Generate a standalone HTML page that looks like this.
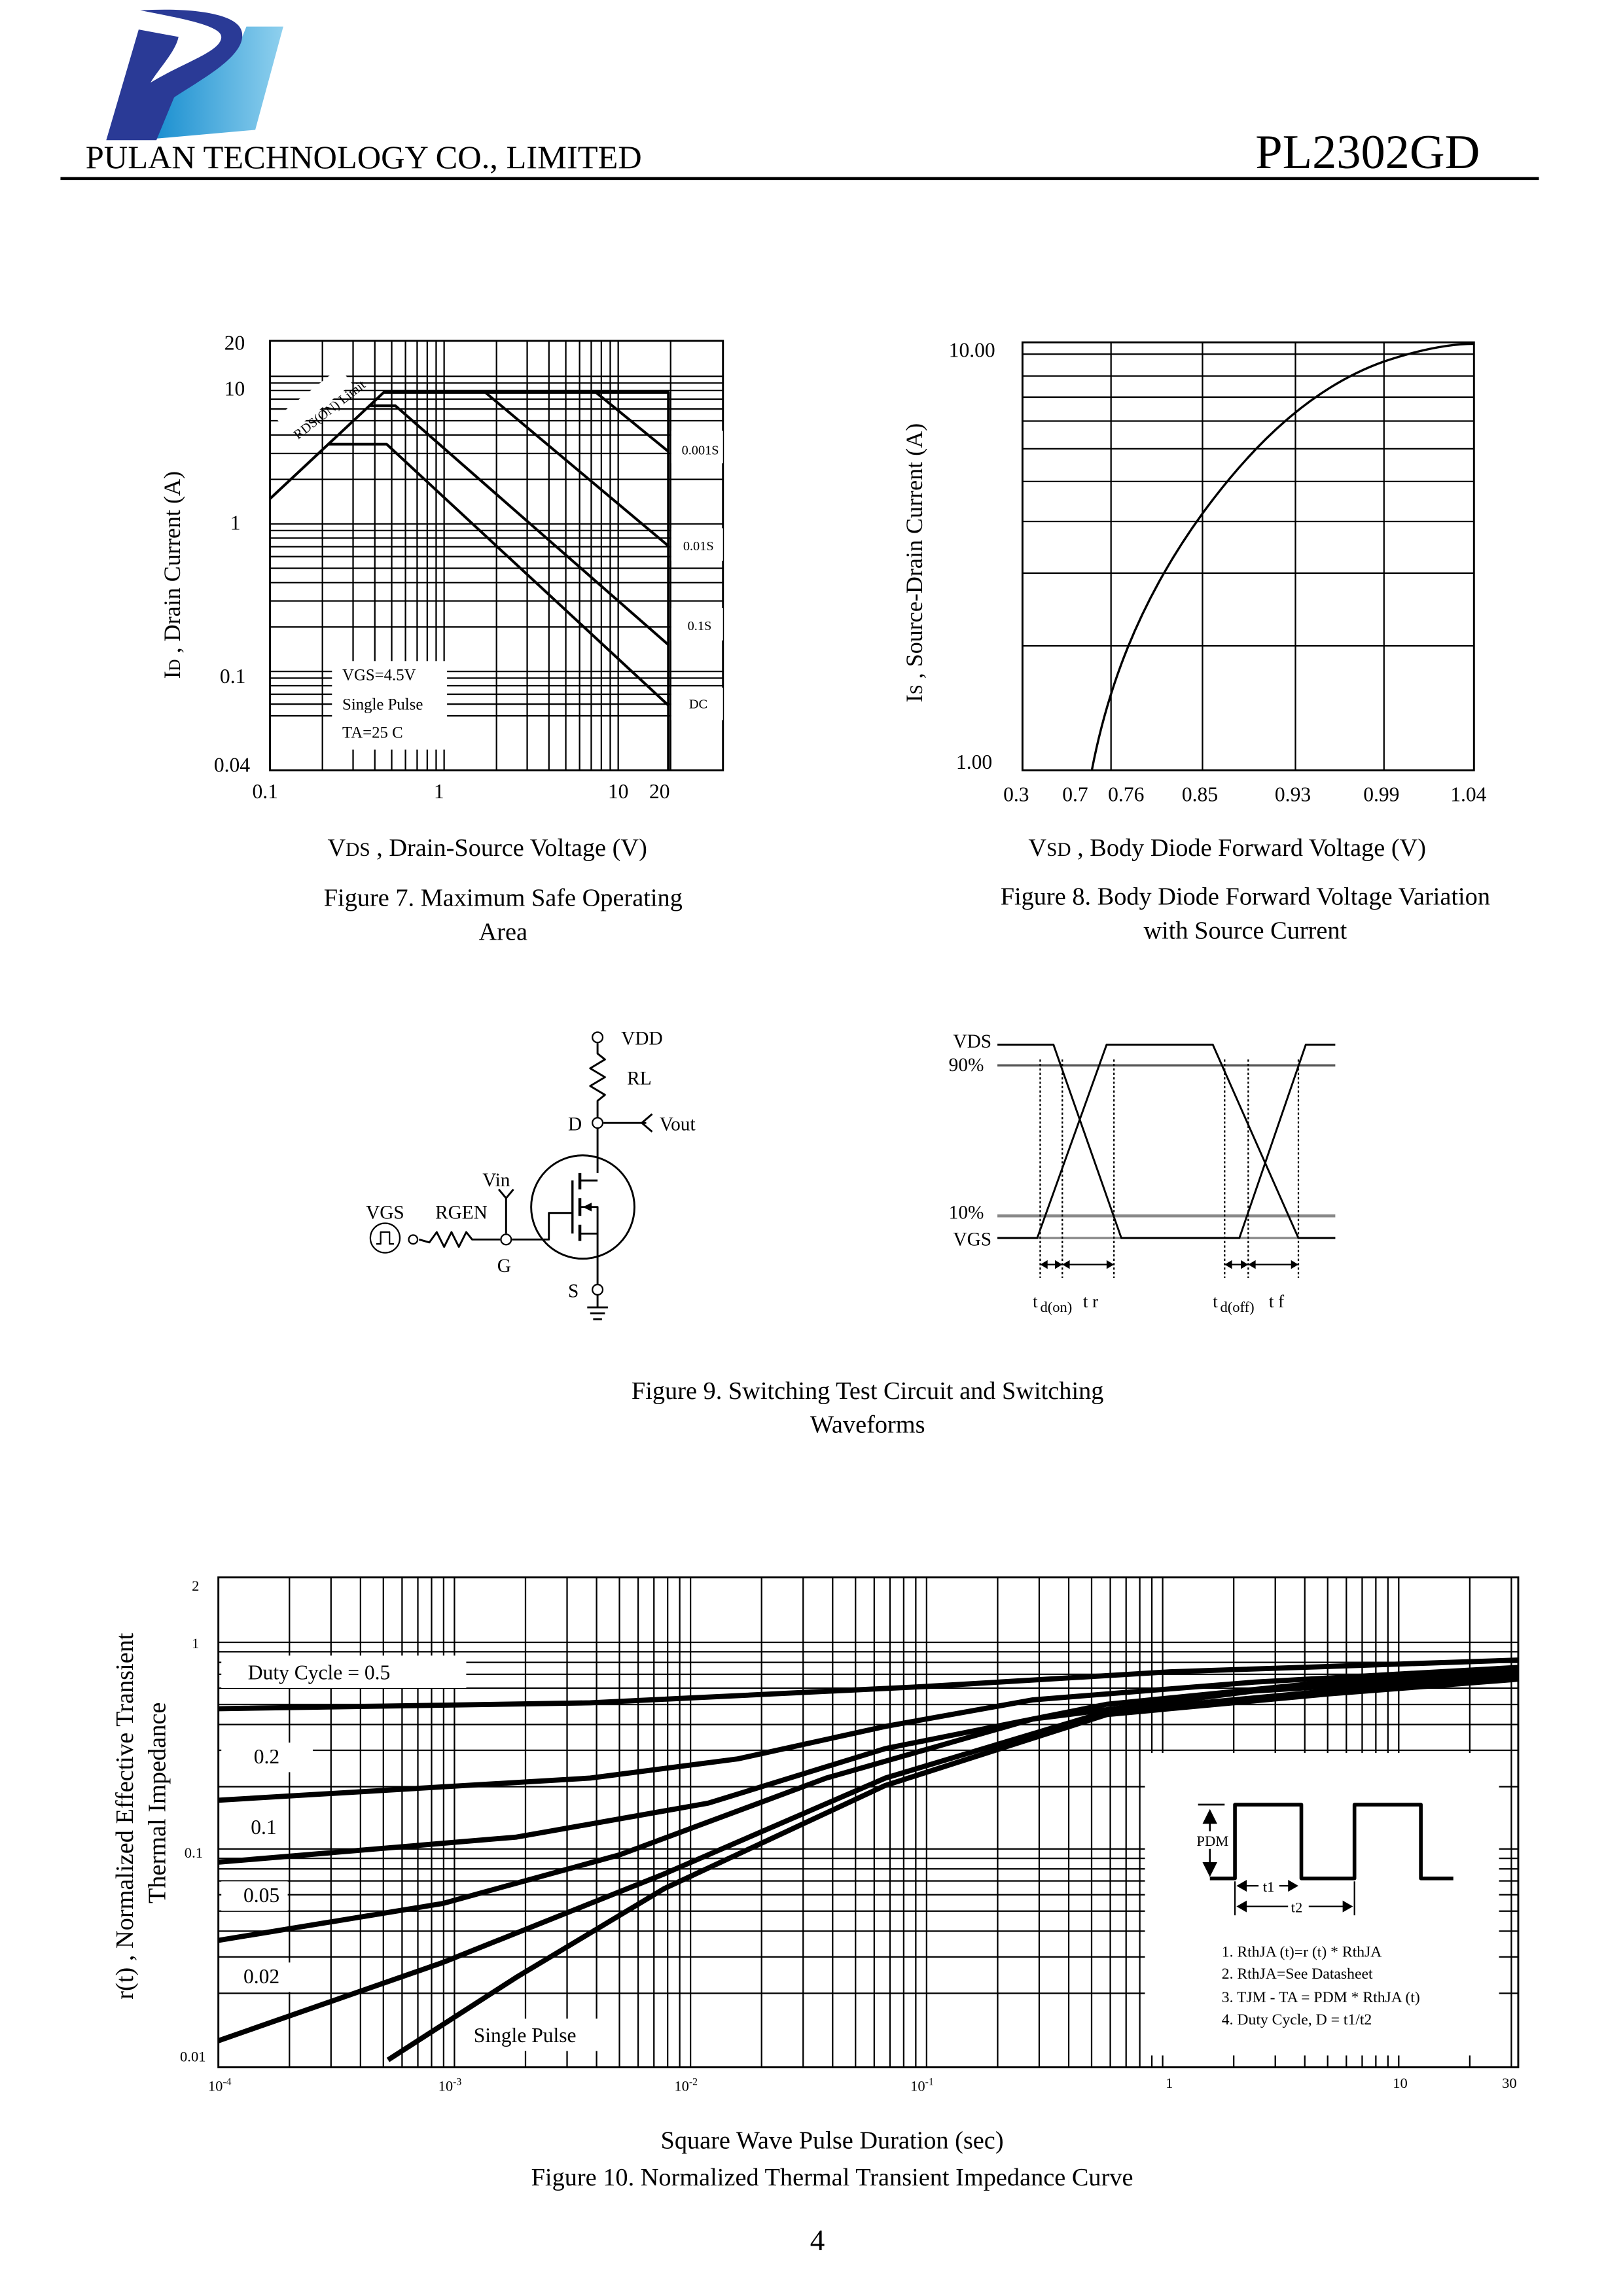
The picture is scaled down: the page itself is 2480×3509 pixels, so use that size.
<!DOCTYPE html>
<html><head><meta charset="utf-8"><style>
html,body{margin:0;padding:0;background:#fff}
svg{display:block}
text{font-family:"Liberation Serif",serif;fill:#000}
</style></head><body>
<svg id="s" width="2480" height="3509" viewBox="0 0 1100 1556" preserveAspectRatio="none" xmlns="http://www.w3.org/2000/svg">
<defs>
<linearGradient id="lg" x1="0" y1="0" x2="1" y2="0"><stop offset="0" stop-color="#1a8fd0"/><stop offset="1" stop-color="#8fd0ee"/></linearGradient>
</defs>
<rect width="1100" height="1556" fill="#fff"/>
<!-- logo -->
<path d="M167,18 L192,18 L173,88 L105,94 L116,64 C135,52 160,40 163,28 Z" fill="url(#lg)"/>
<path d="M72,95 L94,20 L121,25 C119,35 108,46 102,56 C125,42 150,35 150,25 C150,17 120,12 95,7 C130,5 162,9 164,22 C167,38 136,54 118,66 L106,95 Z" fill="#2a3a96"/>
<text x="58" y="114" font-size="22" textLength="377" lengthAdjust="spacingAndGlyphs">PULAN TECHNOLOGY CO., LIMITED</text>
<text x="1003" y="114" font-size="33" text-anchor="end">PL2302GD</text>
<line x1="41" y1="121" x2="1043" y2="121" stroke="#000" stroke-width="2"/>
<g id="g7" stroke="#000" fill="none" stroke-width="1"></g>
<g id="g8" stroke="#000" fill="none" stroke-width="1"></g>
<g id="g10" stroke="#000" fill="none" stroke-width="1"></g>
<g id="other"></g>
<!-- fig7 text -->
<g font-size="14">
<text x="152" y="237">20</text><text x="152" y="268">10</text><text x="156" y="359">1</text>
<text x="149" y="463">0.1</text><text x="145" y="523">0.04</text>
<text x="171" y="541">0.1</text><text x="294" y="541">1</text><text x="412" y="541">10</text><text x="440" y="541">20</text>
</g>
<text transform="translate(122,460) rotate(-90)" font-size="16">I<tspan font-size="11">D</tspan> , Drain Current (A)</text>
<text x="222" y="580" font-size="17">V<tspan font-size="13">DS</tspan> , Drain-Source Voltage (V)</text>
<text x="341" y="614" font-size="17" text-anchor="middle">Figure 7. Maximum Safe Operating</text>
<text x="341" y="637" font-size="17" text-anchor="middle">Area</text>
<!-- fig8 text -->
<g font-size="14">
<text x="643" y="242">10.00</text><text x="648" y="521">1.00</text>
<text x="680" y="543">0.3</text><text x="720" y="543">0.7</text><text x="751" y="543">0.76</text><text x="801" y="543">0.85</text>
<text x="864" y="543">0.93</text><text x="924" y="543">0.99</text><text x="983" y="543">1.04</text>
</g>
<text transform="translate(625,476) rotate(-90)" font-size="16">I<tspan font-size="12">S</tspan> , Source-Drain Current (A)</text>
<text x="697" y="580" font-size="17">V<tspan font-size="13">SD</tspan> , Body Diode Forward Voltage (V)</text>
<text x="844" y="613" font-size="17" text-anchor="middle">Figure 8. Body Diode Forward Voltage Variation</text>
<text x="844" y="636" font-size="17" text-anchor="middle">with Source Current</text>
<!-- fig9 -->
<text x="588" y="948" font-size="17" text-anchor="middle">Figure 9. Switching Test Circuit and Switching</text>
<text x="588" y="971" font-size="17" text-anchor="middle">Waveforms</text>
<!-- fig10 text -->
<g font-size="10">
<text x="130" y="1078">2</text><text x="130" y="1117">1</text><text x="125" y="1259">0.1</text><text x="122" y="1397">0.01</text>
<text x="141" y="1417">10<tspan font-size="7" dy="-4">-4</tspan></text>
<text x="297" y="1417">10<tspan font-size="7" dy="-4">-3</tspan></text>
<text x="457" y="1417">10<tspan font-size="7" dy="-4">-2</tspan></text>
<text x="617" y="1417">10<tspan font-size="7" dy="-4">-1</tspan></text>
<text x="790" y="1415">1</text><text x="944" y="1415">10</text><text x="1018" y="1415">30</text>
</g>
<text transform="translate(90,1355) rotate(-90)" font-size="17">r(t) , Normalized Effective Transient</text>
<text transform="translate(112,1290) rotate(-90)" font-size="17">Thermal Impedance</text>
<text x="564" y="1456" font-size="17" text-anchor="middle">Square Wave Pulse Duration (sec)</text>
<text x="564" y="1481" font-size="17" text-anchor="middle">Figure 10. Normalized Thermal Transient Impedance Curve</text>
<text x="554" y="1525" font-size="20" text-anchor="middle">4</text>
</svg>
<script>
const NS="http://www.w3.org/2000/svg";
function el(p,t,a,txt){const e=document.createElementNS(NS,t);for(const k in a)e.setAttribute(k,a[k]);if(txt!==undefined)e.textContent=txt;p.appendChild(e);return e;}
function L(p,x1,y1,x2,y2,w,c){return el(p,'line',{x1,y1,x2,y2,'stroke-width':w||1,stroke:c||'#000'});}
function P(p,pts,w){return el(p,'polyline',{points:pts.map(a=>a.join(',')).join(' '),'stroke-width':w||2,fill:'none',stroke:'#000','stroke-linejoin':'round'});}
const lg=Math.log10;
// FIG 7
let g=document.getElementById('g7');
const X7=v=>183+(lg(v)+1)*118, Y7=v=>355-lg(v)*100;
el(g,'rect',{x:183,y:231,width:307,height:291,'stroke-width':1.3});
[0.2,0.3,0.4,0.5,0.6,0.7,0.8,0.9,1,2,3,4,5,6,7,8,9,10,20].forEach(v=>L(g,X7(v),231,X7(v),522));
[0.05,0.06,0.07,0.08,0.09,0.1,0.2,0.3,0.4,0.5,0.6,0.7,0.8,0.9,1,2,3,4,5,6,7,8,9,10].forEach(v=>L(g,183,Y7(v),490,Y7(v)));
const o=document.getElementById('other');
el(o,'rect',{x:225,y:448,width:78,height:60,fill:'#fff'});
el(o,'rect',{x:455,y:292,width:35,height:22,fill:'#fff'});
el(o,'rect',{x:455,y:358,width:35,height:22,fill:'#fff'});
el(o,'rect',{x:455,y:412,width:35,height:22,fill:'#fff'});
el(o,'rect',{x:455,y:466,width:35,height:22,fill:'#fff'});
el(o,'rect',{x:192,y:262,width:55,height:14,fill:'#fff',transform:'rotate(-38 220 280)'});
P(o,[[183,338],[260,266],[453,266],[453,522]],1.8);
P(o,[[251,275],[268,275],[453,437]],1.8);
P(o,[[222,301],[262,301],[453,478]],1.8);
P(o,[[329,266],[453,370]],1.8);
P(o,[[404,266],[453,306]],1.8);
[['0.001S',462,308],['0.01S',463,373],['0.1S',466,427],['DC',467,480]].forEach(a=>el(o,'text',{x:a[1],y:a[2],'font-size':9},a[0]));
el(o,'text',{x:232,y:461,'font-size':11},'VGS=4.5V');
el(o,'text',{x:232,y:481,'font-size':11},'Single Pulse');
el(o,'text',{x:232,y:500,'font-size':11},'TA=25 C');
el(o,'text',{x:202,y:298,'font-size':9,transform:'rotate(-38 202 298)'},'RDS(ON) Limit');
// FIG 8
g=document.getElementById('g8');
el(g,'rect',{x:693,y:232,width:306,height:290,'stroke-width':1.3});
[753,815,878,938].forEach(x=>L(g,x,232,x,522));
[2,3,4,5,6,7,8,9].forEach(v=>L(g,693,522-lg(v)*280,999,522-lg(v)*280));
L(g,693,240,999,240);
el(o,'path',{d:'M740,522 C750,470 770,410 815,348 C850,300 890,262 938,245 C965,236 985,233 999,233',fill:'none',stroke:'#000','stroke-width':1.5});
// FIG 9 circuit
const c=o;
el(c,'circle',{cx:405,cy:703,r:3.5,fill:'#fff',stroke:'#000'});
P(c,[[405,707],[405,714],[410,718],[400,724],[410,730],[400,736],[410,742],[405,746],[405,795]],1.3);
el(c,'circle',{cx:405,cy:761,r:3.5,fill:'#fff',stroke:'#000'});
L(c,409,761,438,761,1.3);P(c,[[442,755],[435,761],[442,767]],1.3);
el(c,'circle',{cx:395,cy:818,r:35,fill:'none',stroke:'#000','stroke-width':1.3});
L(c,388,800,388,836,1.5);L(c,393,795,393,806,2);L(c,393,812,393,824,2);L(c,393,830,393,841,2);
P(c,[[393,800],[405,800]],1.3);P(c,[[393,836],[405,836],[405,870]],1.3);
P(c,[[393,818],[405,818],[405,836]],1.3);
el(c,'path',{d:'M395,818 L401,815 L401,821 Z',fill:'#000'});
P(c,[[388,822],[372,822],[372,840],[347,840]],1.3);
el(c,'circle',{cx:343,cy:840,r:3.5,fill:'#fff',stroke:'#000'});
L(c,343,836,343,812,1.3);P(c,[[338,806],[343,812],[348,806]],1.3);
P(c,[[339,840],[320,840],[316,835],[311,845],[306,835],[301,845],[296,835],[291,842],[284,840]],1.3);
el(c,'circle',{cx:280,cy:840,r:3,fill:'#fff',stroke:'#000'});
el(c,'circle',{cx:261,cy:839,r:10,fill:'none',stroke:'#000'});
P(c,[[255,843],[258,843],[258,835],[264,835],[264,843],[267,843]],1);
el(c,'circle',{cx:405,cy:874,r:3.5,fill:'#fff',stroke:'#000'});
L(c,405,878,405,886,1.3);L(c,398,886,412,886,1.3);L(c,400,890,410,890,1.3);L(c,402,894,408,894,1.3);
[['VDD',421,708],['RL',425,735],['Vout',447,766],['D',385,766],['Vin',327,804],['VGS',248,826],['RGEN',295,826],['G',337,862],['S',385,879]].forEach(a=>el(c,'text',{x:a[1],y:a[2],'font-size':13},a[0]));
// waveforms
L(c,676,722,905,722,1.5,'#555');L(c,676,824,905,824,2,'#888');L(c,676,839,905,839,1.5,'#888');
P(c,[[676,839],[703,839],[750,708],[822,708],[880,839],[905,839]],1.3);
P(c,[[676,708],[714,708],[760,839],[840,839],[885,708],[905,708]],1.3);
[705,720,755,830,846,880].forEach(x=>el(c,'line',{x1:x,y1:718,x2:x,y2:866,stroke:'#000','stroke-dasharray':'1.5,1.5'}));
[[705,720],[720,755],[830,846],[846,880]].forEach(a=>{L(c,a[0],857,a[1],857,1);el(c,'path',{d:`M${a[0]},857 l5,-3 v6z M${a[1]},857 l-5,-3 v6z`,fill:'#000'});});
[['VDS',646,710],['90%',643,726],['10%',643,826],['VGS',646,844]].forEach(a=>el(c,'text',{x:a[1],y:a[2],'font-size':13},a[0]));
el(c,'text',{x:700,y:886,'font-size':12},'t');el(c,'text',{x:705,y:889,'font-size':10},'d(on)');el(c,'text',{x:734,y:886,'font-size':12},'t r');
el(c,'text',{x:822,y:886,'font-size':12},'t');el(c,'text',{x:827,y:889,'font-size':10},'d(off)');el(c,'text',{x:860,y:886,'font-size':12},'t f');
// FIG 10
g=document.getElementById('g10');
const X10=v=>148+(lg(v)+4)*160, Y10=v=>1113-lg(v)*140;
el(g,'rect',{x:148,y:1069,width:881,height:332,'stroke-width':1.3});
for(let d=-4;d<=1;d++)for(let k=1;k<=9;k++){const v=k*Math.pow(10,d);if(v>30||v<=1e-4)continue;L(g,X10(v),1069,X10(v),1401);}
[0.02,0.03,0.04,0.05,0.06,0.07,0.08,0.09,0.1,0.2,0.3,0.4,0.5,0.6,0.7,0.8,0.9,1].forEach(v=>L(g,148,Y10(v),1029,Y10(v)));
el(o,'rect',{x:776,y:1188,width:240,height:205,fill:'#fff'});
el(o,'rect',{x:150,y:1122,width:166,height:22,fill:'#fff'});
el(o,'rect',{x:150,y:1181,width:62,height:20,fill:'#fff'});
el(o,'rect',{x:150,y:1229,width:45,height:20,fill:'#fff'});
el(o,'rect',{x:150,y:1275,width:45,height:20,fill:'#fff'});
el(o,'rect',{x:150,y:1330,width:50,height:20,fill:'#fff'});
el(o,'rect',{x:315,y:1368,width:92,height:22,fill:'#fff'});
const cv=(pts)=>el(o,'path',{d:'M'+pts.map(a=>a.join(',')).join(' L'),fill:'none',stroke:'#000','stroke-width':3.5,'stroke-linejoin':'round'});
cv([[148,1158],[400,1154],[626,1143],[793,1133],[1029,1125]]);
cv([[148,1220],[400,1205],[500,1192],[600,1170],[700,1152],[850,1140],[1029,1130]]);
cv([[148,1262],[350,1245],[480,1222],[600,1185],[750,1155],[900,1140],[1029,1132]]);
cv([[148,1315],[300,1290],[420,1257],[560,1205],[700,1165],[850,1146],[1029,1135]]);
cv([[148,1383],[300,1330],[450,1270],[600,1205],[750,1160],[900,1146],[1029,1137]]);
cv([[263,1396],[350,1340],[450,1280],[600,1210],[750,1162],[900,1148],[1029,1138]]);
[['Duty Cycle = 0.5',168,1138],['0.2',172,1195],['0.1',170,1243],['0.05',165,1289],['0.02',165,1344],['Single Pulse',321,1384]].forEach(a=>el(o,'text',{x:a[1],y:a[2],'font-size':14},a[0]));
P(o,[[820,1273],[837,1273],[837,1223],[882,1223],[882,1273],[918,1273],[918,1223],[963,1223],[963,1273],[985,1273]],2.5);
L(o,812,1223,830,1223,1.2);L(o,820,1228,820,1268,1.2);
el(o,'path',{d:'M820,1226 l-5,10 h10z M820,1272 l-5,-10 h10z',fill:'#000'});
el(o,'rect',{x:810,y:1241,width:22,height:12,fill:'#fff'});
el(o,'text',{x:811,y:1251,'font-size':10},'PDM');
L(o,837,1275,837,1298,1);L(o,918,1275,918,1298,1);
L(o,840,1278,878,1278,1);L(o,840,1292,916,1292,1);
el(o,'path',{d:'M838,1278 l7,-4 v8z M880,1278 l-7,-4 v8z M838,1292 l7,-4 v8z M917,1292 l-7,-4 v8z',fill:'#000'});
el(o,'rect',{x:853,y:1272,width:14,height:12,fill:'#fff'});el(o,'text',{x:856,y:1282,'font-size':10},'t1');
el(o,'rect',{x:873,y:1286,width:14,height:12,fill:'#fff'});el(o,'text',{x:875,y:1296,'font-size':10},'t2');
[['1. RthJA (t)=r (t) * RthJA',1326],['2. RthJA=See Datasheet',1341],['3. TJM - TA = PDM * RthJA (t)',1357],['4. Duty Cycle, D = t1/t2',1372]].forEach(a=>el(o,'text',{x:828,y:a[1],'font-size':10.5},a[0]));
</script>
</body></html>
